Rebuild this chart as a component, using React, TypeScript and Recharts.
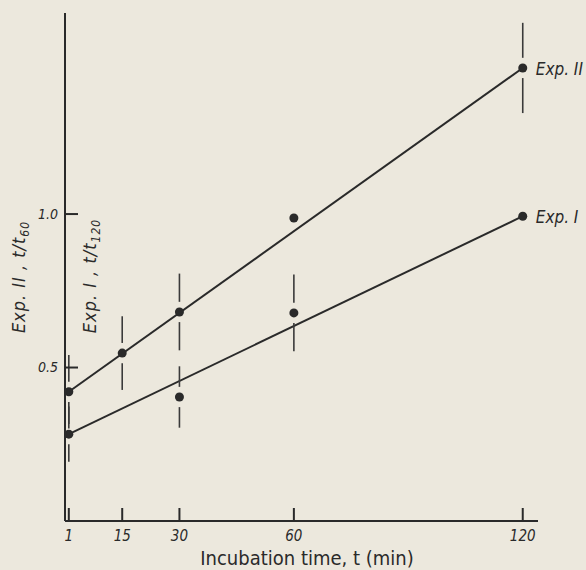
import React from "react";
import { ComposedChart, Line, Scatter, ErrorBar, XAxis, YAxis } from "recharts";

// measured time points (min)
const times = [1, 15, 30, 60, 120];
// Exp. II, t/t60
const expIIValues = [0.421, 0.547, 0.681, 0.987, 1.476];
const expIIErrors = [0.12, 0.12, 0.125, 0, 0.147];
// Exp. I, t/t120 (no point at 15 min)
const expIValues = [0.283, null, 0.404, 0.678, 0.993];
const expIErrors = [0.09, null, 0.1, 0.125, 0];
// fitted straight lines
const fitTimes = [1, 120];
const fitIIValues = [0.421, 1.476];
const fitIValues = [0.283, 0.993];
// axis ticks
const xTicks = [1, 15, 30, 60, 120];
const yTicks = [0.5, 1.0];

const FONT = '"Liberation Sans Narrow", "DejaVu Sans Condensed", "Roboto", sans-serif';
const INK = "#2a2a2a";
const PAPER = "#ece8dd";
// break in the error bar around the dot, in y units
const GAP = 0.033;

const buildPoints = (vals: (number | null)[], errs: (number | null)[]) =>
  times
    .map((t, i) => ({ t, v: vals[i], err: errs[i] }))
    .filter((d) => d.v !== null);

const expIIData = buildPoints(expIIValues, expIIErrors);
const expIData = buildPoints(expIValues, expIErrors);
const fitIIData = fitTimes.map((t, i) => ({ t, v: fitIIValues[i] }));
const fitIData = fitTimes.map((t, i) => ({ t, v: fitIValues[i] }));

// upper and lower halves of each error bar, leaving a gap at the dot
const upperHalf = (d: any) => (d.err ? [-GAP, d.err] : [0, 0]);
const lowerHalf = (d: any) => (d.err ? [d.err, -GAP] : [0, 0]);

const Dot = (props: any) => <circle cx={props.cx} cy={props.cy} r={4.5} fill={INK} />;

const endLabel = (text: string) => (p: any) =>
  p.index === 1 ? (
    <text x={p.x + 13} y={p.y + 7} fontFamily={FONT} fontStyle="italic" fontSize={17} fill={INK}>
      {text}
    </text>
  ) : (
    <g />
  );

const YTitles = () => (
  <g fontFamily={FONT} fontStyle="italic" fill={INK}>
    <text transform="rotate(-90 25 277)" x={25} y={277} textAnchor="middle" fontSize={18} letterSpacing={1}>
      Exp. II , t/t
      <tspan dy={4} fontSize={12}>60</tspan>
    </text>
    <text transform="rotate(-90 96 276)" x={96} y={276} textAnchor="middle" fontSize={18} letterSpacing={1}>
      Exp. I , t/t
      <tspan dy={4} fontSize={12}>120</tspan>
    </text>
  </g>
);

const barStyle = { width: 0, stroke: "#3a3a3a", strokeWidth: 1.6 };

export default function App() {
  return (
    <div style={{ position: "fixed", left: 0, top: 0, width: 586, height: 570, background: PAPER }}>
      <ComposedChart width={586} height={570} margin={{ top: 13, right: 48, bottom: 0, left: 64 }}>
        <XAxis
          type="number"
          dataKey="t"
          domain={[0, 124]}
          ticks={xTicks}
          interval={0}
          height={49}
          stroke={INK}
          strokeWidth={2}
          tickSize={-13}
          tickMargin={22}
          tick={{ fill: INK, fontFamily: FONT, fontStyle: "italic", fontSize: 15 }}
          label={() => (
            <text x={307} y={565} textAnchor="middle" fontFamily={FONT} fontSize={20} fill={INK}>
              Incubation time, t (min)
            </text>
          )}
        />
        <YAxis
          type="number"
          dataKey="v"
          domain={[0, 1.655]}
          ticks={yTicks}
          interval={0}
          width={1}
          stroke={INK}
          strokeWidth={2}
          tickSize={-13}
          tickMargin={20}
          tickFormatter={(v: number) => v.toFixed(1)}
          tick={{ fill: INK, fontFamily: FONT, fontStyle: "italic", fontSize: 14 }}
          label={() => <YTitles />}
        />
        <Line
          data={fitIIData}
          dataKey="v"
          type="linear"
          stroke={INK}
          strokeWidth={2}
          dot={false}
          isAnimationActive={false}
          label={endLabel("Exp. II")}
        />
        <Line
          data={fitIData}
          dataKey="v"
          type="linear"
          stroke={INK}
          strokeWidth={2}
          dot={false}
          isAnimationActive={false}
          label={endLabel("Exp. I")}
        />
        <Scatter data={expIIData} dataKey="v" shape={Dot} isAnimationActive={false}>
          <ErrorBar dataKey={upperHalf} direction="y" {...barStyle} isAnimationActive={false} />
          <ErrorBar dataKey={lowerHalf} direction="y" {...barStyle} isAnimationActive={false} />
        </Scatter>
        <Scatter data={expIData} dataKey="v" shape={Dot} isAnimationActive={false}>
          <ErrorBar dataKey={upperHalf} direction="y" {...barStyle} isAnimationActive={false} />
          <ErrorBar dataKey={lowerHalf} direction="y" {...barStyle} isAnimationActive={false} />
        </Scatter>
      </ComposedChart>
    </div>
  );
}
